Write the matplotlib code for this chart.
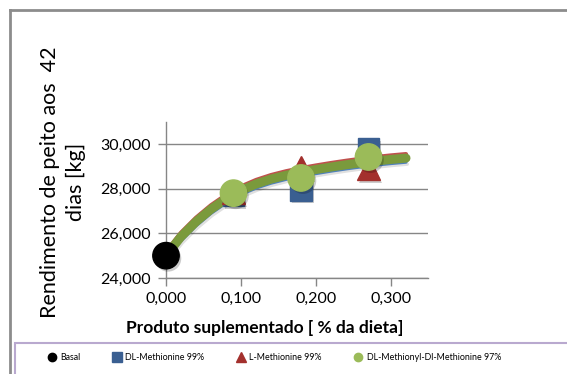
import numpy as np
import matplotlib
matplotlib.use("Agg")
import matplotlib.pyplot as plt
import matplotlib.patheffects as pe
from matplotlib.lines import Line2D
from matplotlib.patches import Rectangle

plt.rcParams['font.family'] = ['Lato', 'DejaVu Sans']

# treatment data (x = % of diet, y = breast yield)
basal_x = [0.0]
basal_y = [25000]
dl_met_x = [0.09, 0.18, 0.27]
dl_met_y = [27700, 27950, 29800]
l_met_x = [0.09, 0.18, 0.27]
l_met_y = [27850, 28950, 28900]
dldl_met_x = [0.09, 0.18, 0.27]
dldl_met_y = [27800, 28480, 29420]

# fitted response curves
curve_x = [0.00, 0.02, 0.04, 0.06, 0.08, 0.10, 0.12, 0.14, 0.16,
           0.18, 0.20, 0.22, 0.24, 0.26, 0.28, 0.30, 0.32]
curve_green = [25000, 25850, 26520, 27080, 27540, 27920, 28210, 28430, 28600,
               28740, 28860, 28970, 29070, 29160, 29240, 29310, 29370]
curve_red = [25180, 26030, 26700, 27260, 27720, 28100, 28390, 28610, 28780,
             28920, 29040, 29150, 29250, 29340, 29420, 29490, 29550]
curve_blue = [24820, 25670, 26340, 26900, 27360, 27740, 28030, 28250, 28420,
              28560, 28680, 28790, 28890, 28980, 29060, 29130, 29190]

xticks = [0.0, 0.1, 0.2, 0.3]
xtick_labels = ["0,000", "0,100", "0,200", "0,300"]
yticks = [24000, 26000, 28000, 30000]
ytick_labels = ["24,000", "26,000", "28,000", "30,000"]

fig = plt.figure(figsize=(5.67, 3.74), dpi=100)
ax = fig.add_axes([166 / 567, 1 - 278 / 374, (428.5 - 166) / 567, (278 - 121.7) / 374])

shadow = [pe.SimplePatchShadow(offset=(1.5, -2), shadow_rgbFace='k', alpha=0.2), pe.Normal()]
lshadow = [pe.SimpleLineShadow(offset=(1, -1.5), alpha=0.12), pe.Normal()]

ax.plot(curve_x, curve_blue, color='#4F81BD', lw=2.4, solid_capstyle='round', zorder=3, path_effects=lshadow)
ax.plot(curve_x, curve_red, color='#C0504D', lw=3, solid_capstyle='round', zorder=3.5, path_effects=lshadow)
ax.plot(curve_x, curve_green, color='#7A9A3C', lw=6.5, solid_capstyle='round', solid_joinstyle='round', zorder=4)

ax.plot(dl_met_x, dl_met_y, 's', ms=15.5, color='#3A5F91', zorder=5, path_effects=shadow)
ax.plot(l_met_x, l_met_y, '^', ms=17, color='#A3302D', zorder=6, path_effects=shadow)
ax.plot(dldl_met_x, dldl_met_y, 'o', ms=19, color='#9BBB59', zorder=7, path_effects=shadow)
ax.plot(basal_x, basal_y, 'o', ms=19, color='black', zorder=8, clip_on=False, path_effects=shadow)

ax.set_xlim(0, 0.35)
ax.set_ylim(24000, 31000)
ax.set_xticks(xticks)
ax.set_xticklabels(xtick_labels)
ax.set_yticks(yticks)
ax.set_yticklabels(ytick_labels)
ax.tick_params(axis='both', direction='out', length=6, width=1, color='#868686',
               labelsize=11.5, colors='#868686', labelcolor='black')
ax.tick_params(axis='y', pad=5)
ax.tick_params(axis='x', pad=4)
ax.grid(axis='y', color='#868686', lw=1)
ax.set_axisbelow(True)
for s in ['top', 'right']:
    ax.spines[s].set_visible(False)
for s in ['left', 'bottom']:
    ax.spines[s].set_color('#868686')
    ax.spines[s].set_linewidth(1)

fig.text(265 / 567, 1 - 328 / 374, "Produto suplementado [ % da dieta]",
         ha='center', va='center', fontsize=12.5, fontweight='bold')
fig.text(63 / 567, 1 - 182 / 374, "Rendimento de peito aos  42\ndias [kg]", rotation=90,
         ha='center', va='center', multialignment='center', fontsize=15.5, linespacing=1.35)

# outer chart frame and legend box
fig.add_artist(Line2D([9.5 / 567, 9.5 / 567], [0, 1 - 10 / 374], transform=fig.transFigure, color='#8C8C8C', lw=2))
fig.add_artist(Line2D([9.5 / 567, 1], [1 - 10 / 374, 1 - 10 / 374], transform=fig.transFigure, color='#8C8C8C', lw=2))
fig.add_artist(Rectangle((15 / 567, -0.01), 1, (374 - 343) / 374 + 0.01, transform=fig.transFigure,
                         fill=False, edgecolor='#B9A9CF', lw=1.5))

handles = [
    Line2D([], [], ls='none', marker='o', color='black', ms=6),
    Line2D([], [], ls='none', marker='s', color='#3A5F91', ms=6.5),
    Line2D([], [], ls='none', marker='^', color='#A3302D', ms=6.5),
    Line2D([], [], ls='none', marker='o', color='#9BBB59', ms=6),
]
labels = ["Basal", "DL-Methionine 99%", "L-Methionine 99%", "DL-Methionyl-Dl-Methionine 97%"]
fig.legend(handles, labels, loc='center left', bbox_to_anchor=(48 / 567, 1 - 358 / 374), ncol=4,
           frameon=False, fontsize=6.4, handlelength=0.8, handletextpad=0.55, columnspacing=3.7,
           borderpad=0, borderaxespad=0)

fig.savefig("out.png", dpi=100)
